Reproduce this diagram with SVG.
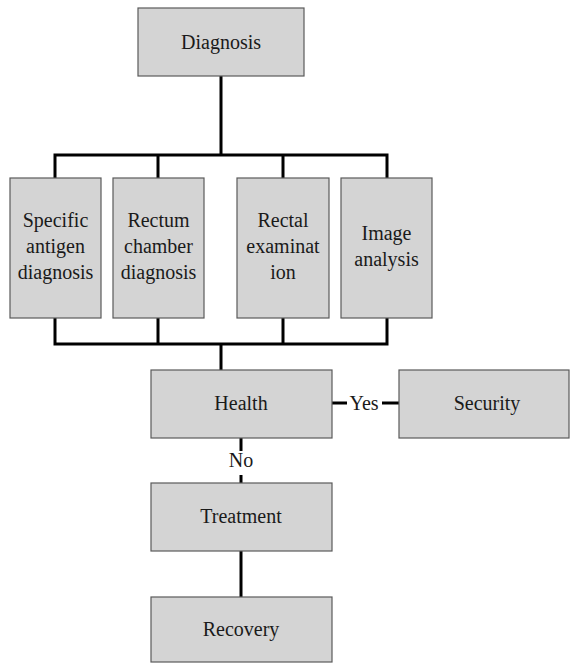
<svg xmlns="http://www.w3.org/2000/svg" width="570" height="663" viewBox="0 0 570 663" font-family="'Liberation Serif', 'Times New Roman', serif">
<style>
.box{fill:#d4d4d4;stroke:#5a5a5a;stroke-width:1.2}
.t{font-family:'Liberation Serif', 'Times New Roman', serif;font-size:20px;fill:#1a1a1a;text-anchor:middle}
.c{stroke:#000;stroke-width:3;fill:none}
</style>
<rect width="570" height="663" fill="#fff"/>
<g id="connectors">
<path class="c" d="M221 76V155M55 178V155H387V178M158 155V178M283 155V178"/>
<path class="c" d="M55 318V344H387V318M158 318V344M283 318V344M221 344V370"/>
<path class="c" d="M332 403H347M382 403H399"/>
<path class="c" d="M241 438V451M241 475V483"/>
<path class="c" d="M241 551V597"/>
<text class="t" x="364" y="410">Yes</text>
<text class="t" x="241" y="467">No</text>
</g>
<g id="diagnosis"><rect class="box" x="138" y="8" width="166" height="68"/><text class="t" x="221" y="49">Diagnosis</text></g>
<g id="specific"><rect class="box" x="10" y="178" width="91" height="140"/><text class="t" x="55.5" y="227">Specific</text><text class="t" x="55.5" y="253">antigen</text><text class="t" x="55.5" y="279">diagnosis</text></g>
<g id="rectum"><rect class="box" x="113" y="178" width="91" height="140"/><text class="t" x="158.5" y="227">Rectum</text><text class="t" x="158.5" y="253">chamber</text><text class="t" x="158.5" y="279">diagnosis</text></g>
<g id="rectal"><rect class="box" x="237" y="178" width="92" height="140"/><text class="t" x="283" y="227">Rectal</text><text class="t" x="283" y="253">examinat</text><text class="t" x="283" y="279">ion</text></g>
<g id="image"><rect class="box" x="341" y="178" width="91" height="140"/><text class="t" x="386.5" y="240">Image</text><text class="t" x="386.5" y="266">analysis</text></g>
<g id="health"><rect class="box" x="151" y="370" width="181" height="68"/><text class="t" x="241" y="410">Health</text></g>
<g id="security"><rect class="box" x="399" y="370" width="170" height="68"/><text class="t" x="487" y="410">Security</text></g>
<g id="treatment"><rect class="box" x="151" y="483" width="181" height="68"/><text class="t" x="241" y="523">Treatment</text></g>
<g id="recovery"><rect class="box" x="151" y="597" width="181" height="65"/><text class="t" x="241" y="636">Recovery</text></g>
</svg>
